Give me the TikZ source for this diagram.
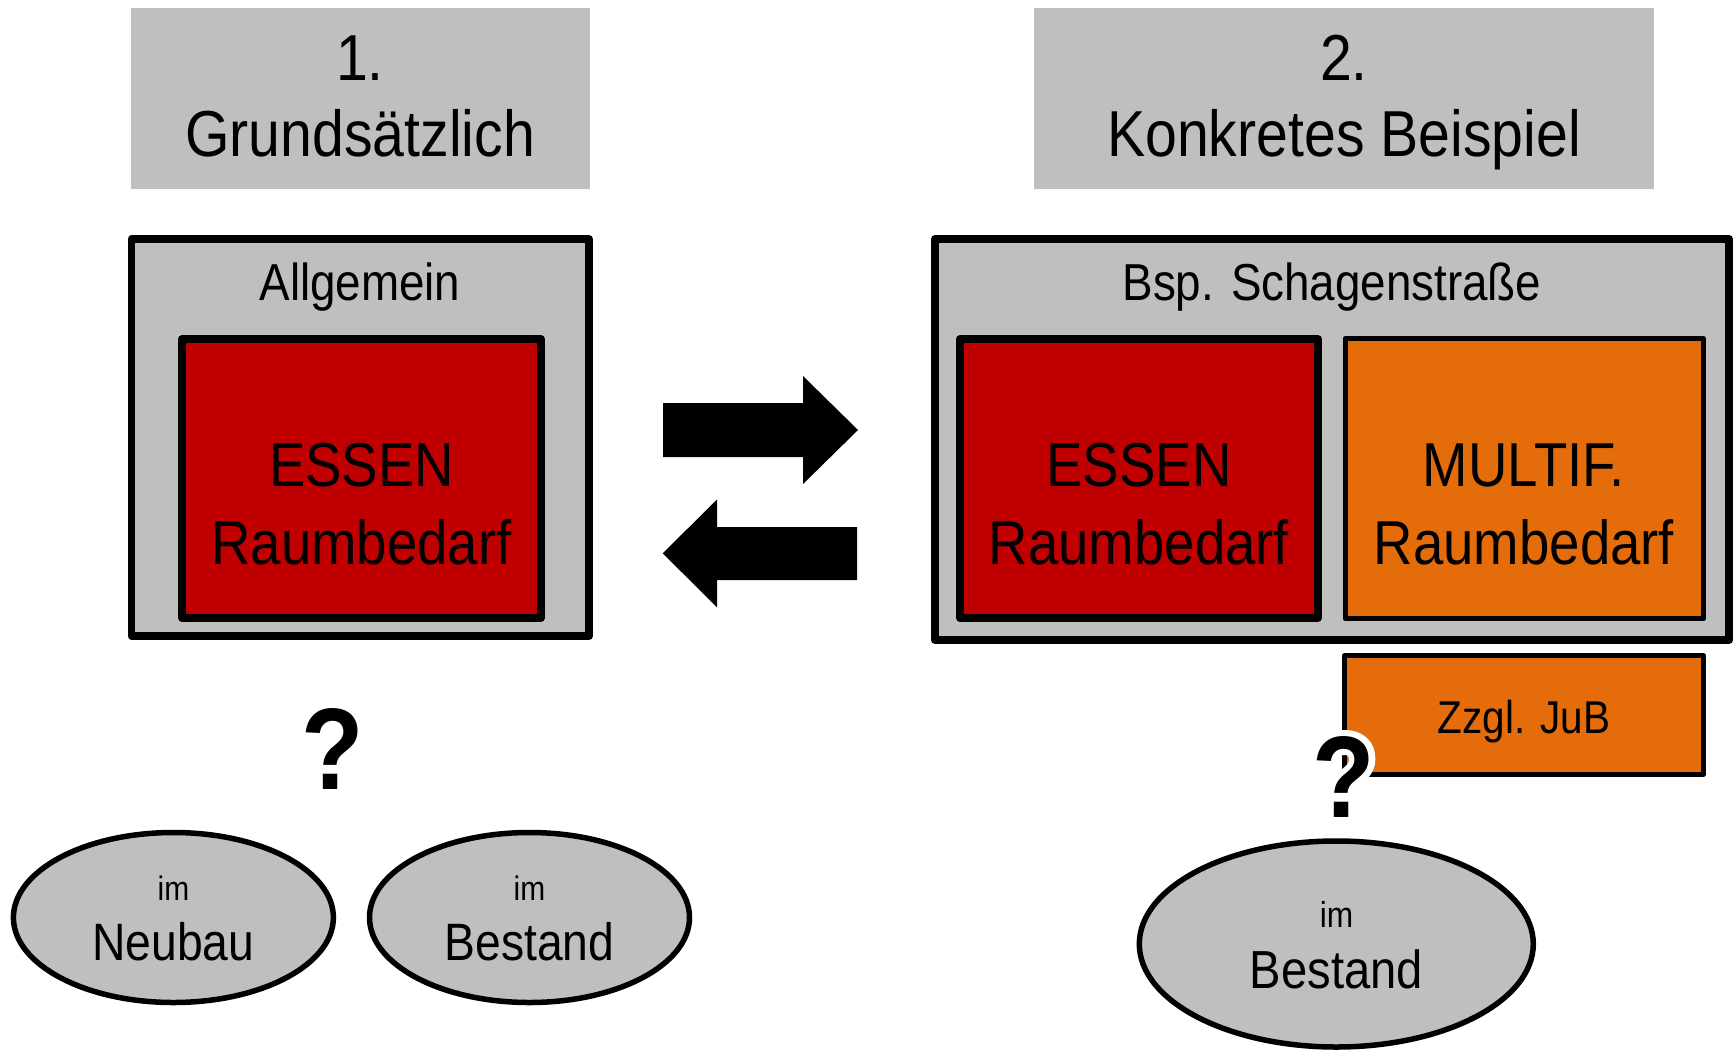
\documentclass[tikz,border=0pt]{standalone}
\usepackage{fontspec}
\setmainfont{Liberation Sans}[FakeStretch=0.88]
\usetikzlibrary{fit,shapes.geometric}
\definecolor{boxgrey}{HTML}{BFBFBF}
\definecolor{essred}{HTML}{C00000}
\definecolor{mforange}{HTML}{E46C0A}
\newdimen\px \px=0.5pt
\newcommand{\haloq}{\rlap{\special{pdf:literal direct 1 Tr 1 1 1 RG 6 w 1 J 1 j}?\special{pdf:literal direct 0 Tr 0 0 0 RG}}?}
\tikzset{
  titlebox/.style={fill=boxgrey, inner sep=0pt},
  outerbox/.style={draw, line width=3.75pt, fill=boxgrey, inner sep=0pt, line join=round},
  redbox/.style={draw, line width=3.75pt, fill=essred, inner sep=0pt, line join=round},
  orangebox/.style={draw, line width=2.5pt, fill=mforange, inner sep=0pt, line join=round},
  ovalnode/.style={ellipse, draw, line width=2.75pt, fill=boxgrey, inner sep=0pt},
  lbl/.style={anchor=base, inner sep=0pt},
  blockarrow/.style={fill=black},
  ftitle/.style={font=\fontsize{32.5pt}{39pt}\selectfont},
  fhead/.style={font=\fontsize{26pt}{31pt}\selectfont},
  fbig/.style={font=\fontsize{31pt}{37pt}\selectfont},
  fjub/.style={font=\fontsize{23pt}{28pt}\selectfont},
  foval/.style={font=\fontsize{26.3pt}{31pt}\selectfont},
  fovalsmall/.style={font=\fontsize{17pt}{20pt}\selectfont},
  fq/.style={font=\bfseries\fontsize{58pt}{60pt}\selectfont},
}
\begin{document}
\begin{tikzpicture}[x=0.5pt,y=-0.5pt]
\useasboundingbox (0,0) rectangle (1735,1051);

% title boxes
\node[titlebox, fit={(130.5,7.5) (590,188.5)}] (t1) {};
\node[titlebox, fit={(1033.5,7.5) (1654.3,188.5)}] (t2) {};
\node[lbl, ftitle] (t1num) at (360,80) {1.};
\node[lbl, ftitle] (t1txt) at (360,156.7) {Grundsätzlich};
\node[lbl, ftitle] (t2num) at (1344,80) {2.};
\node[lbl, ftitle] (t2txt) at (1344,156.7) {Konkretes Beispiel};

% left group
\node[outerbox, fit={(131.5,239) (589,636)}] (allg) {};
\node[lbl, fhead] (allgtxt) at (360,300) {Allgemein};
\node[redbox, fit={(182,339) (541,618)}] (essL) {};
\node[lbl, fbig] (essLa) at (361.5,486.7) {ESSEN};
\node[lbl, fbig] (essLb) at (361.5,564) {Raumbedarf};

% right group
\node[outerbox, fit={(935,239) (1729,640)}] (bsp) {};
\node[lbl, fhead] (bsptxt) at (1332,300) {Bsp. Schagenstraße};
\node[redbox, fit={(960,339) (1318,618)}] (essR) {};
\node[lbl, fbig] (essRa) at (1139,486.7) {ESSEN};
\node[lbl, fbig] (essRb) at (1139,564) {Raumbedarf};
\node[orangebox, fit={(1345,338.5) (1703.5,618.7)}] (mf) {};
\node[lbl, fbig] (mfa) at (1524,486.7) {MULTIF.};
\node[lbl, fbig] (mfb) at (1524,564) {Raumbedarf};
\node[orangebox, fit={(1344.5,655.8) (1703.5,774.3)}] (jub) {};
\node[lbl, fjub] (jubtxt) at (1524,733.3) {Zzgl. JuB};

% block arrows
\fill[blockarrow] (663,403) -- (803,403) -- (803,376) -- (858,430) -- (803,484) -- (803,457) -- (663,457) -- cycle;
\fill[blockarrow] (857,527) -- (717,527) -- (717,499.5) -- (662.7,553.3) -- (717,607.3) -- (717,580) -- (857,580) -- cycle;

% ovals
\node[ovalnode, minimum width=320\px, minimum height=170\px] (neu) at (173.4,917.5) {};
\node[lbl, fovalsmall] (neua) at (173.4,900) {im};
\node[lbl, foval] (neub) at (173.4,960.7) {Neubau};
\node[ovalnode, minimum width=320\px, minimum height=170\px] (bes1) at (529.5,917.5) {};
\node[lbl, fovalsmall] (bes1a) at (529.5,900) {im};
\node[lbl, foval] (bes1b) at (529.5,960.7) {Bestand};
\node[ovalnode, minimum width=394\px, minimum height=206\px] (bes2) at (1336.3,944) {};
\node[lbl, font=\fontsize{18pt}{21pt}\selectfont] (bes2a) at (1336.5,927.3) {im};
\node[lbl, font=\fontsize{26.8pt}{31pt}\selectfont] (bes2b) at (1336.5,988.3) {Bestand};

% question marks
\node[lbl, fq] (q1) at (333,789) {?};
\node[lbl, fq] (q2) at (1344,817) {\haloq};
\end{tikzpicture}
\end{document}
